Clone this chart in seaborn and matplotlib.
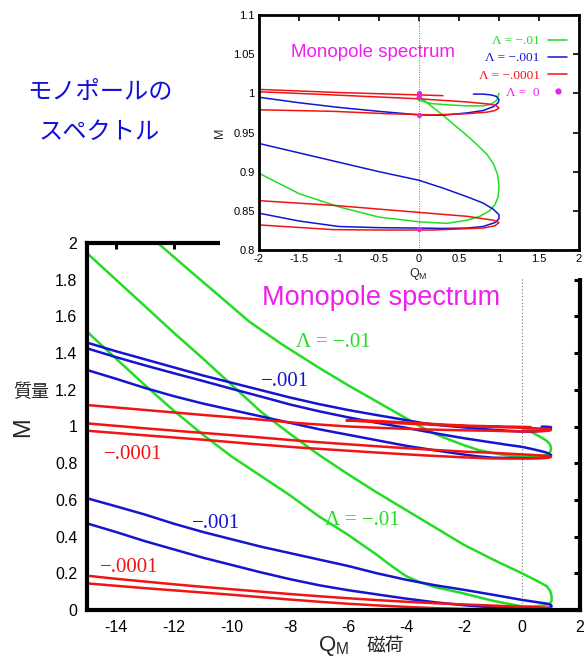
import numpy as np
import pandas as pd
import matplotlib
matplotlib.use("Agg")
import matplotlib.pyplot as plt
from matplotlib.patches import Rectangle
from matplotlib.lines import Line2D
import seaborn as sns

# ---------------- data: monopole mass M versus magnetic charge Q_M ----------------
lambda_labels = ["Λ = −.01", "Λ = −.001", "Λ = −.0001"]
lambda_colors = ["#22dd22", "#1414d2", "#f01414"]

# Λ = -.01 : lower fold (upper branch -> turning point -> lower branch)
green_fold_q = [-15.0, -14.0, -13.0, -12.0, -11.0, -10.0, -9.0, -8.0, -7.0, -6.0, -5.0, -4.0,
                -3.0, -2.0, -1.0, 0.0, 0.5, 0.85, 0.97, 1.02, 1.02, 0.95, 0.75, 0.4, 0.0,
                -1.0, -2.0, -3.0, -3.5, -4.0, -4.5, -5.0, -6.0, -7.0, -8.0, -9.0, -10.0,
                -11.0, -12.0, -13.0, -14.0, -15.0]
green_fold_m = [1.945, 1.80, 1.655, 1.51, 1.37, 1.225, 1.08, 0.96, 0.845, 0.74, 0.64, 0.545,
                0.45, 0.355, 0.275, 0.20, 0.16, 0.13, 0.105, 0.075, 0.05, 0.035, 0.025, 0.02, 0.02,
                0.05, 0.09, 0.125, 0.15, 0.185, 0.24, 0.30, 0.41, 0.51, 0.625, 0.73, 0.835,
                0.955, 1.085, 1.225, 1.37, 1.517]
# Λ = -.01 : spiral branch around M ~ 0.83 - 1.0
green_spiral_q = [-12.8, -12.56, -11.5, -10.5, -9.4, -8.3, -7.0, -6.0, -5.0, -4.0, -3.5, -3.0,
                  -2.5, -2.0, -1.5, -1.0, -0.5, 0.0, 0.35, 0.6, 0.76, 0.88, 0.95, 0.99, 1.0,
                  0.98, 0.93, 0.85, 0.72, 0.6, 0.45, 0.3, 0.15, 0.05, 0.0, -0.03, 0.0, 0.15,
                  0.4, 0.6, 0.8, 0.9, 0.97, 1.0]
green_spiral_m = [2.035, 2.0, 1.855, 1.72, 1.571, 1.45, 1.32, 1.225, 1.135, 1.045, 1.0, 0.96,
                  0.928, 0.898, 0.872, 0.855, 0.842, 0.836, 0.834, 0.838, 0.843, 0.85, 0.858,
                  0.868, 0.882, 0.897, 0.91, 0.922, 0.935, 0.946, 0.959, 0.972, 0.984, 0.992,
                  0.995, 0.994, 0.991, 0.987, 0.985, 0.984, 0.984, 0.986, 0.991, 1.0]

# Λ = -.001
blue_spiral_q = [-15.0, -14.0, -13.0, -12.0, -11.0, -10.0, -9.0, -8.0, -7.0, -6.0, -5.0, -4.0,
                 -3.4, -2.7, -2.0, -1.5, -1.0, -0.5, 0.0, 0.3, 0.6, 0.8, 0.93, 0.99, 1.0, 0.97,
                 0.9, 0.8, 0.68]
blue_spiral_m = [1.457, 1.41, 1.366, 1.322, 1.278, 1.238, 1.198, 1.158, 1.122, 1.09, 1.062, 1.035,
                 1.018, 1.005, 0.995, 0.988, 0.982, 0.977, 0.9725, 0.972, 0.975, 0.978, 0.983,
                 0.988, 0.992, 0.996, 0.998, 0.999, 0.999]
blue_mid_q = [-15.0, -14.0, -13.0, -12.0, -11.0, -10.0, -9.0, -8.0, -7.0, -6.0, -5.0, -4.0, -3.4,
              -2.7, -2.0, -1.5, -1.0, -0.5, 0.0, 0.3, 0.6, 0.8, 0.93, 1.0, 1.0, 0.95, 0.8, 0.6,
              0.3, 0.0, -0.5, -1.0, -1.5, -2.0, -3.0, -4.0, -5.0, -6.0, -7.0, -8.0, -9.0, -10.0,
              -11.0, -12.0, -13.0, -14.0, -15.0]
blue_mid_m = [1.426, 1.378, 1.333, 1.29, 1.248, 1.205, 1.163, 1.12, 1.083, 1.05, 1.02, 0.993,
              0.975, 0.955, 0.936, 0.924, 0.912, 0.9, 0.889, 0.879, 0.868, 0.86, 0.852, 0.845,
              0.84, 0.835, 0.83, 0.828, 0.8275, 0.828, 0.8285, 0.83, 0.837, 0.847, 0.87, 0.895,
              0.925, 0.955, 0.985, 1.02, 1.055, 1.09, 1.125, 1.165, 1.21, 1.26, 1.308]
blue_low_q = [-15.0, -14.0, -13.0, -12.0, -11.0, -10.0, -9.0, -8.0, -7.0, -6.0, -5.0, -4.0, -3.0,
              -2.0, -1.0, 0.0, 0.5, 0.85, 1.0, 1.02, 0.95, 0.7, 0.0, -1.0, -2.0, -3.0, -4.0,
              -5.0, -6.0, -7.0, -8.0, -9.0, -10.0, -11.0, -12.0, -13.0, -14.0, -15.0]
blue_low_m = [0.609, 0.565, 0.52, 0.47, 0.425, 0.385, 0.345, 0.31, 0.275, 0.24, 0.2, 0.165, 0.135,
              0.11, 0.083, 0.055, 0.043, 0.035, 0.028, 0.02, 0.012, 0.008, 0.007, 0.014, 0.026,
              0.042, 0.062, 0.085, 0.108, 0.135, 0.168, 0.205, 0.245, 0.285, 0.33, 0.375, 0.425,
              0.472]

# Λ = -.0001
red_spiral_q = [-15.0, -13.0, -11.0, -9.2, -7.66, -6.0, -4.5, -3.3, -2.0, -1.07, -0.4, 0.18, 0.6,
                0.85, 0.95, 1.0, 0.97, 0.9, 0.6, 0.0, -0.65, -1.3, -2.0, -3.0, -4.0, -5.0, -5.7,
                -6.05, -5.8, -5.0, -4.0, -3.0, -2.0, -1.0, 0.0, 0.3]
red_spiral_m = [1.117, 1.09, 1.063, 1.04, 1.018, 1.0, 0.99, 0.984, 0.979, 0.977, 0.974, 0.9725,
                0.974, 0.976, 0.978, 0.981, 0.984, 0.986, 0.989, 0.993, 0.996, 0.999, 1.002,
                1.009, 1.016, 1.024, 1.03, 1.033, 1.034, 1.03, 1.022, 1.013, 1.005, 1.001, 0.998,
                0.997]
red_mid_q = [-15.0, -13.0, -11.0, -9.3, -7.66, -6.0, -4.5, -3.3, -2.0, -1.07, 0.0, 0.6, 0.93, 1.0,
             0.95, 0.8, 0.18, -0.5, -1.07, -2.0, -3.3, -4.5, -6.0, -7.66, -9.3, -11.0, -13.0,
             -15.0]
red_mid_m = [1.017, 0.99, 0.965, 0.944, 0.922, 0.903, 0.887, 0.875, 0.863, 0.857, 0.848, 0.843,
             0.838, 0.835, 0.831, 0.828, 0.8255, 0.8255, 0.826, 0.832, 0.842, 0.853, 0.868,
             0.885, 0.905, 0.928, 0.952, 0.977]
red_low_q = [-15.0, -14.0, -13.0, -12.0, -11.0, -10.0, -9.0, -8.0, -7.0, -6.0, -5.0, -4.0, -3.0,
             -2.0, -1.0, 0.0, 0.5, 0.9, 1.02, 0.95, 0.5, 0.0, -1.0, -2.0, -3.0, -4.0, -5.0, -6.0,
             -7.0, -8.0, -9.0, -10.0, -11.0, -12.0, -13.0, -14.0, -15.0]
red_low_m = [0.187, 0.17, 0.155, 0.14, 0.126, 0.113, 0.1, 0.087, 0.075, 0.064, 0.054, 0.045,
             0.037, 0.03, 0.024, 0.018, 0.015, 0.012, 0.008, 0.004, 0.002, 0.002, 0.003, 0.006,
             0.01, 0.017, 0.025, 0.034, 0.045, 0.057, 0.07, 0.083, 0.095, 0.107, 0.119, 0.132,
             0.145]

# Λ = 0 : isolated solutions at Q_M = 0
zero_q = [0.0, 0.0, 0.0, 0.0]
zero_m = [0.8264, 0.9725, 0.9966, 1.0]

branches = [
    (lambda_labels[0], "g_fold", green_fold_q, green_fold_m),
    (lambda_labels[0], "g_spiral", green_spiral_q, green_spiral_m),
    (lambda_labels[1], "b_spiral", blue_spiral_q, blue_spiral_m),
    (lambda_labels[1], "b_mid", blue_mid_q, blue_mid_m),
    (lambda_labels[1], "b_low", blue_low_q, blue_low_m),
    (lambda_labels[2], "r_spiral", red_spiral_q, red_spiral_m),
    (lambda_labels[2], "r_mid", red_mid_q, red_mid_m),
    (lambda_labels[2], "r_low", red_low_q, red_low_m),
]
df = pd.concat(
    [pd.DataFrame({"Q": q, "M": m, "lam": lam, "branch": name}) for lam, name, q, m in branches],
    ignore_index=True,
)
palette = dict(zip(lambda_labels, lambda_colors))

# ---------------- styling ----------------
sns.set_theme(style="white")
plt.rcParams["font.family"] = ["Liberation Sans", "Noto Sans CJK JP", "DejaVu Sans"]
plt.rcParams["axes.unicode_minus"] = False
plt.rcParams["xtick.direction"] = "in"
plt.rcParams["ytick.direction"] = "in"
serif = ["Liberation Serif", "DejaVu Serif"]
jp = ["Noto Sans CJK JP", "DejaVu Sans"]
magenta = "#f01ef0"

W, H = 585, 659
fig = plt.figure(figsize=(W / 100, H / 100), dpi=100)


def fx(px):
    return px / W


def fy(py):
    return 1 - py / H


# ---------------- main panel ----------------
ax = fig.add_axes([fx(87), fy(610), fx(580) - fx(87), fy(243) - fy(610)], zorder=0)
ax.axvline(0, color="0.45", ls=(0, (1, 2)), lw=0.8, zorder=1)
sns.lineplot(data=df, x="Q", y="M", hue="lam", hue_order=lambda_labels, units="branch",
             estimator=None, sort=False, palette=palette, lw=1.8, legend=False, ax=ax)
ax.set_xlim(-15, 2)
ax.set_ylim(0, 2)
main_xt = np.arange(-14, 3, 2)
main_yt = np.round(np.arange(0, 2.01, 0.2), 1)
ax.set_xticks(main_xt)
ax.set_xticklabels([f"{v:g}" for v in main_xt])
ax.set_yticks(main_yt)
ax.set_yticklabels([f"{v:g}" for v in main_yt])
ax.set_xlabel("")
ax.set_ylabel("")
ax.tick_params(direction="in", length=4.5, width=2.2, top=True, right=True,
               labelsize=11.5, pad=7, colors="black")
for s in ax.spines.values():
    s.set_linewidth(3)
    s.set_color("black")

ax.text(-4.86, 1.70, "Monopole spectrum", color=magenta, fontsize=19.5, ha="center", va="center")
ax.text(-6.5, 1.46, "Λ = −.01", color=lambda_colors[0], family=serif, fontsize=15, ha="center", va="center")
ax.text(-5.5, 0.49, "Λ = −.01", color=lambda_colors[0], family=serif, fontsize=15, ha="center", va="center")
ax.text(-8.17, 1.243, "−.001", color=lambda_colors[1], family=serif, fontsize=15, ha="center", va="center")
ax.text(-10.55, 0.474, "−.001", color=lambda_colors[1], family=serif, fontsize=15, ha="center", va="center")
ax.text(-13.41, 0.845, "−.0001", color=lambda_colors[2], family=serif, fontsize=15, ha="center", va="center")
ax.text(-13.55, 0.229, "−.0001", color=lambda_colors[2], family=serif, fontsize=15, ha="center", va="center")

fig.text(fx(23), fy(427), "M", rotation=90, fontsize=17, ha="center", va="center")
fig.text(fx(31.5), fy(392), "質量", family=jp, fontsize=13, ha="center", va="center")
fig.text(fx(333.5), fy(646), r"$\mathregular{Q_M}$", fontsize=16, ha="center", va="center")
fig.text(fx(385), fy(646), "磁荷", family=jp, fontsize=13.5, ha="center", va="center")

fig.text(fx(99.5), fy(92), "モノポールの", family=jp, color="#1010d8", fontsize=17.5, ha="center", va="center")
fig.text(fx(99.5), fy(132), "スペクトル", family=jp, color="#1010d8", fontsize=17.5, ha="center", va="center")

# white backing for the inset panel
fig.add_artist(Rectangle((fx(220), fy(278)), 1 - fx(220), 1 - fy(278),
                         transform=fig.transFigure, facecolor="white", edgecolor="none", zorder=1))

# ---------------- inset panel ----------------
axi = fig.add_axes([fx(259), fy(250), fx(579) - fx(259), fy(15) - fy(250)], zorder=2)
axi.axvline(0, color="0.45", ls=(0, (1, 1.5)), lw=0.7, zorder=1)
sns.lineplot(data=df, x="Q", y="M", hue="lam", hue_order=lambda_labels, units="branch",
             estimator=None, sort=False, palette=palette, lw=1.1, legend=False, ax=axi)
sns.scatterplot(x=zero_q, y=zero_m, color=magenta, s=14, linewidth=0, ax=axi, zorder=5)
axi.set_xlim(-2, 2)
axi.set_ylim(0.8, 1.1)
xt = np.round(np.arange(-2, 2.01, 0.5), 2)
yt = np.round(np.arange(0.8, 1.101, 0.05), 2)
axi.set_xticks(xt)
axi.set_xticklabels([f"{v:g}" for v in xt])
axi.set_yticks(yt)
axi.set_yticklabels([f"{v:g}" for v in yt])
axi.set_xlabel("")
axi.set_ylabel("")
axi.tick_params(direction="in", length=4, width=1.2, top=True, right=True,
                labelsize=8, pad=3, colors="black")
for s in axi.spines.values():
    s.set_linewidth(2)
    s.set_color("black")
axi.text(-0.58, 1.052, "Monopole spectrum", color=magenta, fontsize=13.5, ha="center", va="center")
fig.text(fx(220), fy(133), "M", rotation=90, fontsize=9, ha="center", va="center")
fig.text(fx(418), fy(274), r"$\mathregular{Q_M}$", fontsize=9, ha="center", va="center")

handles = [Line2D([], [], color=c, lw=1.1) for c in lambda_colors]
handles.append(Line2D([], [], color=magenta, lw=0, marker="o", markersize=3.5))
labels = lambda_labels + ["Λ =  0"]
axi.legend(handles, labels, loc="upper right", bbox_to_anchor=(0.997, 0.96), markerfirst=False,
           frameon=False, prop={"family": serif, "size": 9.5}, labelcolor=lambda_colors + [magenta],
           handlelength=1.5, handletextpad=0.6, labelspacing=0.38, borderpad=0.3)

fig.savefig("out.png", dpi=100)
